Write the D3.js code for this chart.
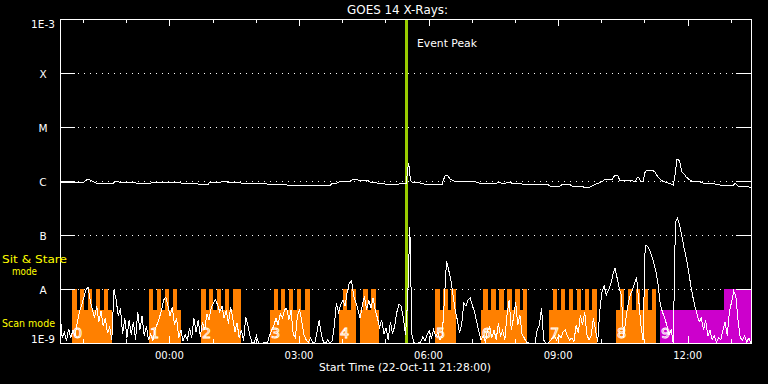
<!DOCTYPE html>
<html><head><meta charset="utf-8">
<script src="https://cdn.jsdelivr.net/npm/d3@7"></script>
<style>html,body{margin:0;padding:0;background:#000;}svg{display:block;}</style>
</head><body><svg id="chart" width="768" height="384"></svg>
<script>
// ---------------- data ----------------
const chartTitle = "GOES 14 X-Rays:";
const startTime = new Date(2011, 9, 22, 21, 28, 0);
const spanMinutes = 960;
const xAxisTitle = "Start Time (22-Oct-11 21:28:00)";
const levelNames = ["1E-9", "A", "B", "C", "M", "X", "1E-3"];
const levelFlux = [1e-9, 1e-8, 1e-7, 1e-6, 1e-5, 1e-4, 1e-3];
const eventPeakMinute = 482;
const eventLabel = "Event Peak";
const modeLabels = ["Sit & Stare", "mode", "Scan mode"];

// GOES long channel (1-8 A), minutes after start, flux in 1e-6 W/m^2
const longMinutes = [0,10,21,32,38,40,46,51,74,76,81,83,125,129,157,160,176,178,206,208,222,227,232,233,250,253,264,267,288,289,315,324,343,361,375,378,385,389,403,406,413,417,428,431,445,454,470,472,481,483,484,485,486,487,489,504,507,531,532,535,539,542,545,549,577,579,584,607,609,613,616,618,621,625,628,642,643,663,667,677,681,695,697,709,711,722,729,736,745,753,757,767,770,775,778,792,799,802,804,807,810,813,816,823,827,829,832,838,843,852,854,857,859,861,864,867,870,875,879,889,893,910,921,935,938,942,952,960];
const longFlux = [0.946,0.938,0.930,0.930,1.075,1.066,0.971,0.907,0.891,0.987,0.987,0.930,0.907,0.946,0.946,0.930,0.907,0.891,0.869,0.946,0.946,1.0,0.979,0.946,0.930,0.907,0.907,0.880,0.880,0.862,0.844,0.833,0.833,0.818,0.826,0.899,0.918,0.987,0.987,1.057,1.057,1.013,1.013,0.946,0.907,0.869,0.869,0.907,0.907,1.6,2.127,1.9,1.3,1.04,0.95,0.907,0.869,0.869,1.0,1.238,1.238,1.075,1.030,0.987,0.987,0.938,0.907,0.907,0.958,0.918,0.880,0.880,0.946,0.946,0.907,0.880,0.844,0.844,0.869,0.869,0.808,0.808,0.844,0.844,0.808,0.808,0.764,0.764,0.880,0.971,1.075,1.075,1.238,1.254,1.013,1.013,0.987,1.171,1.161,0.971,0.979,1.487,1.598,1.598,1.437,1.292,1.136,0.971,0.938,0.844,1.136,2.523,2.502,2.277,1.468,1.348,1.186,1.043,0.971,0.971,0.918,0.880,0.818,0.818,0.907,0.808,0.791,0.764];

// GOES short channel (0.5-4 A), one value every 3 minutes, flux in 1e-9 W/m^2
const shortCadenceMin = 3;
const shortFlux = [
3.91,1.24,1.60,1.09,1.82,1.24,1.74,1.35,2.45,3.75,
5.05,6.81,9.58,10.9,6.26,4.08,2.90,4.84,2.45,3.91,
2.06,2.90,1.53,1.98,1.14,9.58,6.26,3.16,4.45,1.47,
2.90,1.24,2.67,1.41,2.45,1.14,3.75,1.74,3.16,1.35,
2.06,1.14,1.47,1.09,1.74,2.25,2.90,4.08,6.26,7.11,
4.84,3.16,4.64,2.15,2.90,1.24,1.74,1.09,1.41,1.14,
1.90,1.24,2.90,1.60,2.67,1.29,2.45,1.74,3.44,2.67,
4.45,5.51,6.26,5.05,3.75,4.84,2.90,4.08,2.25,4.64,
2.90,1.60,2.35,1.24,1.74,1.09,3.03,2.15,1.35,1.0,
1.04,1.35,1.0,1.0,1.0,1.04,1.0,1.35,1.74,2.06,
2.90,2.15,3.44,2.90,4.08,4.45,2.67,4.08,1.47,1.24,
3.30,4.08,2.45,1.41,1.14,1.04,1.24,1.04,1.0,1.60,
2.67,1.47,1.04,1.0,1.14,1.0,1.09,2.06,5.51,3.75,
5.05,6.26,4.84,8.80,12.9,14.1,7.42,5.74,4.08,2.90,
5.05,7.42,4.08,6.26,4.45,6.81,4.08,2.90,1.98,2.67,
1.47,1.90,1.14,2.45,1.47,2.06,3.75,5.27,4.84,2.90,
1.41,6.26,141,1.41,1.0,1.0,1.0,1.04,1.29,1.09,
1.41,1.67,1.24,1.74,1.35,1.53,1.14,1.35,6.26,33.0,
22.5,14.7,7.74,4.08,2.67,1.53,2.15,5.51,4.84,6.26,
6.81,4.84,3.75,2.45,1.60,1.14,1.35,1.04,1.74,1.98,
1.24,1.74,1.14,2.35,1.35,1.74,1.14,3.30,6.26,1.74,
2.90,5.74,2.15,3.30,1.41,1.24,1.04,1.0,1.0,1.0,
1.0,1.74,2.15,4.45,1.14,1.0,1.0,1.09,1.24,1.35,
1.14,1.41,1.24,1.60,1.74,1.35,1.14,1.24,1.04,2.15,
1.53,3.30,2.15,3.75,1.41,1.14,1.35,2.90,1.74,1.04,
4.08,8.80,11.4,7.74,9.58,11.9,18.2,24.5,16.0,10.4,
7.42,1.24,2.67,5.05,7.42,9.58,12.4,16.7,6.26,2.15,
1.14,65.3,62.6,52.7,40.8,30.3,20.6,11.9,5.05,3.75,
2.90,2.15,1.41,1.74,1.0,174,206,147,95.8,57.4,
37.5,22.5,12.4,7.42,4.84,3.44,2.45,2.90,1.74,2.67,
1.35,1.74,1.14,1.35,1.04,1.24,1.14,1.74,2.45,1.35,
3.75,5.74,9.18,7.42,2.67,1.24,1.14,1.35,1.04,1.24,1.0];

// Observation blocks (minutes after start): label, span, full-height sub-intervals, mode
const segLabels = ["0","1","2","3","4","","5","6","7","8","9"];
const segStart  = [16.7,123.6,195.9,291.8,387.6,416.8,521.0,584.9,679.4,772.5,833.6];
const segEnd    = [72.2,168.1,251.5,347.3,411.2,443.2,550.2,648.8,746.0,828.0,960];
const segTeeth  = [
  [[16.7,23.2],[27.8,33.3],[38.9,44.5],[50.0,55.6],[61.1,66.7]],
  [[123.6,129.2],[134.8,140.3],[145.9,151.4],[157.0,162.5]],
  [[195.9,202.4],[207.0,213.0],[217.7,223.7],[229.2,234.8],[240.3,251.5]],
  [[297.3,302.9],[307.0,312.6],[318.1,323.7],[329.3,334.8],[340.4,347.3]],
  [[393.2,398.7],[404.3,411.2]],
  [[421.0,427.9],[432.1,439.0]],
  [[521.0,527.9],[532.1,539.0],[543.2,550.2]],
  [[587.7,594.6],[598.8,605.7],[609.9,616.8],[621.0,628.0],[632.1,639.1],[643.2,648.8]],
  [[684.9,690.5],[696.0,701.6],[707.1,712.7],[718.3,723.8],[729.4,734.9],[739.1,746.0]],
  [[778.0,783.6],[789.1,794.7],[800.2,805.8],[811.4,816.9],[822.5,828.0]],
  [[922.5,960]]
];
const segMode = ["scan","scan","scan","scan","scan","scan","scan","scan","scan","scan","stare"];

// ---------------- drawing ----------------
const W = 768, H = 384;
const m = {left: 60, right: 751, top: 19, bottom: 343};
const svg = d3.select("#chart");
svg.append("rect").attr("width", W).attr("height", H).attr("fill", "#000");

const toDate = mn => new Date(+startTime + mn * 60000);
const x = d3.scaleTime().domain([startTime, toDate(spanMinutes)]).range([m.left, m.right]);
const y = d3.scaleLog().domain([1e-9, 1e-3]).range([m.bottom, m.top]).clamp(true);
const modeColor = {scan: "#ff8000", stare: "#cc00cc"};
const FONT = "DejaVu Sans, Liberation Sans, sans-serif";

// gridlines (dotted)
const gridG = svg.append("g");
levelFlux.slice(1, -1).forEach(v => {
  gridG.append("line").attr("x1", 78).attr("x2", 736)
    .attr("y1", Math.round(y(v)) + 0.5).attr("y2", Math.round(y(v)) + 0.5)
    .attr("stroke", "#fff").attr("stroke-dasharray", "1,5").attr("shape-rendering", "crispEdges");
});

// observation blocks
const topY = y(1e-8), baseY = y(1e-8) + 21;
const segG = svg.append("g").attr("shape-rendering", "crispEdges");
segStart.forEach((s, i) => {
  const col = modeColor[segMode[i]];
  segG.append("rect").attr("x", x(toDate(s))).attr("width", x(toDate(segEnd[i])) - x(toDate(s)))
    .attr("y", baseY).attr("height", m.bottom - baseY).attr("fill", col);
  segTeeth[i].forEach(t => {
    segG.append("rect").attr("x", x(toDate(t[0]))).attr("width", x(toDate(t[1])) - x(toDate(t[0])))
      .attr("y", topY).attr("height", m.bottom - topY).attr("fill", col);
  });
});
segStart.forEach((s, i) => {
  if (!segLabels[i]) return;
  svg.append("text").attr("x", x(toDate(s)) + 1).attr("y", 337.5)
    .attr("font-family", FONT).attr("font-size", 14.5)
    .attr("fill", "none").attr("stroke", "#ffffff").attr("stroke-width", 0.85)
    .text(segLabels[i]);
});

// event peak
svg.append("rect").attr("x", x(toDate(eventPeakMinute)) - 1.5).attr("width", 3)
  .attr("y", m.top).attr("height", m.bottom - m.top).attr("fill", "#99cc00")
  .attr("shape-rendering", "crispEdges");
svg.append("text").attr("x", 417).attr("y", 47).attr("font-family", FONT).attr("font-size", 10.5)
  .attr("fill", "#fff").attr("textLength", 60).attr("lengthAdjust", "spacingAndGlyphs").text(eventLabel);

// curves
const shortData = shortFlux.map((v, i) => ({t: toDate(i * shortCadenceMin), v: v * 1e-9}));
const longData = longMinutes.map((mn, i) => ({t: toDate(mn), v: longFlux[i] * 1e-6}));
const line = d3.line().x(d => x(d.t)).y(d => y(d.v));
svg.append("path").datum(shortData).attr("d", line).attr("fill", "none")
  .attr("stroke", "#fff").attr("stroke-width", 1).attr("shape-rendering", "crispEdges");
svg.append("path").datum(longData).attr("d", line).attr("fill", "none")
  .attr("stroke", "#fff").attr("stroke-width", 1).attr("shape-rendering", "crispEdges");

// frame
const axG = svg.append("g").attr("stroke", "#fff").attr("shape-rendering", "crispEdges");
axG.append("rect").attr("x", m.left + 0.5).attr("y", m.top + 0.5)
  .attr("width", m.right - m.left).attr("height", m.bottom - m.top).attr("fill", "none");

// y ticks and labels
levelFlux.forEach((v, i) => {
  const yy = Math.round(y(v)) + 0.5;
  axG.append("line").attr("x1", m.left).attr("x2", m.left + 15).attr("y1", yy).attr("y2", yy);
  axG.append("line").attr("x1", m.right - 15).attr("x2", m.right).attr("y1", yy).attr("y2", yy);
  let off = 1;
  if (i === levelFlux.length - 1) off = 5;
  if (i === 0) off = -3.5;
  svg.append("text").attr("x", 43).attr("y", y(v) + off).attr("dy", "0.35em")
    .attr("text-anchor", "middle").attr("font-family", FONT).attr("font-size", 10.5)
    .attr("fill", "#fff").text(levelNames[i]);
});

// x ticks
const hours = x.ticks(d3.timeHour.every(1));
hours.forEach(h => {
  const xx = Math.round(x(h)) + 0.5;
  const major = h.getHours() % 3 === 0;
  const len = major ? 7 : 4;
  axG.append("line").attr("x1", xx).attr("x2", xx).attr("y1", m.top).attr("y2", m.top + len);
  axG.append("line").attr("x1", xx).attr("x2", xx).attr("y1", m.bottom).attr("y2", m.bottom - len);
  if (major) {
    svg.append("text").attr("x", x(h)).attr("y", 359).attr("text-anchor", "middle")
      .attr("font-family", FONT).attr("font-size", 10).attr("fill", "#fff")
      .text(d3.timeFormat("%H:%M")(h));
  }
});

// titles
svg.append("text").attr("x", 347).attr("y", 14).attr("font-family", FONT).attr("font-size", 12)
  .attr("fill", "#fff").attr("textLength", 101).attr("lengthAdjust", "spacingAndGlyphs").text(chartTitle);
svg.append("text").attr("x", 319).attr("y", 371).attr("font-family", FONT).attr("font-size", 10.5)
  .attr("fill", "#fff").attr("textLength", 172).attr("lengthAdjust", "spacingAndGlyphs").text(xAxisTitle);

// mode labels
svg.append("text").attr("x", 2).attr("y", 263).attr("font-family", FONT).attr("font-size", 11)
  .attr("fill", "#ffff00").attr("textLength", 65).attr("lengthAdjust", "spacingAndGlyphs").text(modeLabels[0]);
svg.append("text").attr("x", 12).attr("y", 275).attr("font-family", FONT).attr("font-size", 11)
  .attr("fill", "#ffff00").attr("textLength", 25).attr("lengthAdjust", "spacingAndGlyphs").text(modeLabels[1]);
svg.append("text").attr("x", 2).attr("y", 327).attr("font-family", FONT).attr("font-size", 11)
  .attr("fill", "#ffff00").attr("textLength", 53).attr("lengthAdjust", "spacingAndGlyphs").text(modeLabels[2]);
</script>
</body></html>
